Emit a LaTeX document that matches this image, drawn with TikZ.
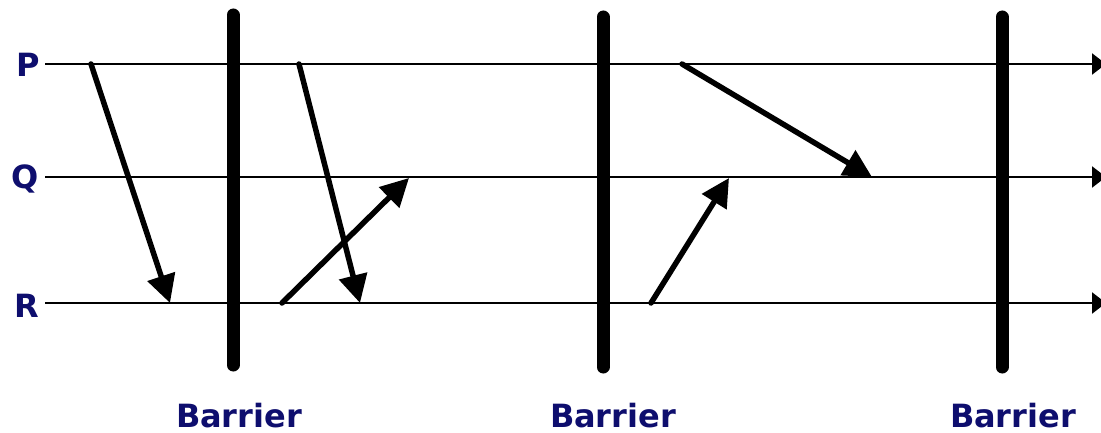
\documentclass[tikz,border=0pt]{standalone}
\usepackage{fontspec}
\setmainfont{DejaVu Sans}
\usetikzlibrary{arrows.meta}
\definecolor{navy}{RGB}{14,14,110}
\tikzset{
  timeline/.style={line width=2.4pt, -{Triangle[length=14pt,width=21pt]}},
  barrier/.style={line width=13pt, line cap=round},
  msg/.style={line width=5.5pt, line cap=round, -{Triangle[length=28pt,width=28pt]}},
  lbl/.style={text=navy, font=\fontsize{32}{36}\selectfont\bfseries, inner sep=0pt},
}
\begin{document}
\begin{tikzpicture}[x=1pt,y=-1pt]
\useasboundingbox (0,0) rectangle (1101,433);
% timelines
\node[lbl, anchor=base] (P) at (28,77) {P};
\node[lbl, anchor=base] (Q) at (25,189) {Q};
\node[lbl, anchor=base] (R) at (27,317) {R};
\coordinate (Pend) at (1106,64);
\coordinate (Qend) at (1106,177);
\coordinate (Rend) at (1106,303);
\draw[timeline] (45,64) -- (Pend);
\draw[timeline] (45,177) -- (Qend);
\draw[timeline] (45,303) -- (Rend);
% barriers
\coordinate (B1t) at (233,15); \coordinate (B1b) at (233,365);
\coordinate (B2t) at (603,17); \coordinate (B2b) at (603,367);
\coordinate (B3t) at (1002,17); \coordinate (B3b) at (1002,367);
\draw[barrier] (B1t) -- (B1b);
\draw[barrier] (B2t) -- (B2b);
\draw[barrier] (B3t) -- (B3b);
\node[lbl, anchor=base] (L1) at (239,427) {Barrier};
\node[lbl, anchor=base] (L2) at (613,427) {Barrier};
\node[lbl, anchor=base] (L3) at (1013,427) {Barrier};
% messages
\coordinate (m1s) at (91,64);  \coordinate (m1e) at (170,303);
\coordinate (m2s) at (299,64); \coordinate (m2e) at (360,303);
\coordinate (m3s) at (282,303); \coordinate (m3e) at (409,178);
\coordinate (m4s) at (651,303); \coordinate (m4e) at (729,178);
\coordinate (m5s) at (682,64); \coordinate (m5e) at (872,177);
\draw[msg] (m1s) -- (m1e);
\draw[msg] (m2s) -- (m2e);
\draw[msg] (m3s) -- (m3e);
\draw[msg] (m4s) -- (m4e);
\draw[msg] (m5s) -- (m5e);
\end{tikzpicture}
\end{document}
